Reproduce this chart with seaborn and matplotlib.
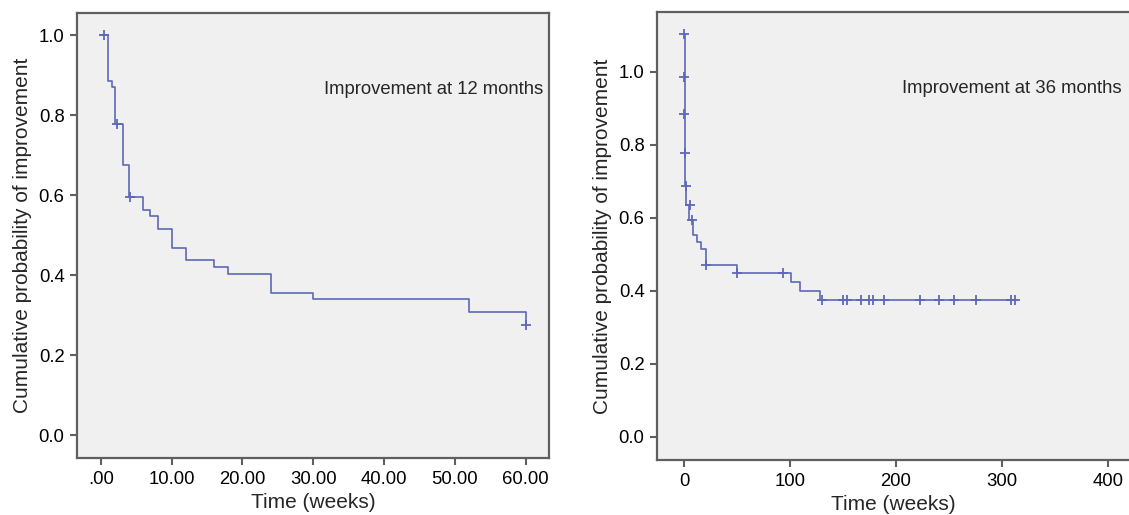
import matplotlib
matplotlib.use('Agg')
import matplotlib.pyplot as plt
import seaborn as sns

# improvement at 12 months (weeks, cumulative probability)
t12 = [0.0, 1.0, 1.55, 2.0, 3.1, 4.0, 6.0, 7.0, 8.1, 10.1, 12.0, 16.0, 18.0, 24.0, 30.0, 52.0, 60.0]
s12 = [1.0, 0.885, 0.87, 0.777, 0.674, 0.596, 0.562, 0.548, 0.516, 0.468, 0.437, 0.42, 0.4035, 0.356, 0.341, 0.3075, 0.274]
cens_t12 = [0.5, 2.3, 4.15, 60.0]
cens_s12 = [1.0, 0.777, 0.596, 0.274]
xticks12 = [0, 10, 20, 30, 40, 50, 60]
xlabels12 = ['.00', '10.00', '20.00', '30.00', '40.00', '50.00', '60.00']

# improvement at 36 months
t36 = [0.0, 1.0, 2.0, 5.0, 8.8, 12.5, 15.7, 20.8, 50.3, 100.6, 109.4, 128.3, 313.8]
s36 = [1.105, 0.69, 0.635, 0.594, 0.553, 0.534, 0.513, 0.47, 0.448, 0.425, 0.399, 0.3745, 0.3745]
cens_t36 = [0.0, 0.0, 0.0, 0.5, 1.5, 5.7, 7.8, 21.0, 50.0, 93.7, 130.0, 150.3, 153.5,
            166.7, 174.5, 178.0, 188.7, 222.6, 240.9, 255.0, 275.2, 308.2, 312.0]
cens_s36 = [1.105, 0.986, 0.884, 0.778, 0.688, 0.635, 0.594, 0.47, 0.448, 0.448] + [0.3745] * 13
xticks36 = [0, 100, 200, 300, 400]
xlabels36 = ['0', '100', '200', '300', '400']

yticks = [0.0, 0.2, 0.4, 0.6, 0.8, 1.0]
ylabels = ['0.0', '0.2', '0.4', '0.6', '0.8', '1.0']

line_c = '#5d68b6'
spine_c = '#5f5f5f'

sns.set_style('ticks')
plt.rcParams['font.family'] = ['Liberation Sans', 'DejaVu Sans']

fig = plt.figure(figsize=(11.29, 5.15), dpi=100)
ax1 = fig.add_axes([77 / 1129, 57 / 515, 472 / 1129, 445 / 515])
ax2 = fig.add_axes([657 / 1129, 55 / 515, 472 / 1129, 448 / 515])


def km_panel(ax, t, s, ct, cs, note):
    ax.set_facecolor('#f0f0f0')
    sns.lineplot(x=t, y=s, ax=ax, estimator=None, sort=False,
                 drawstyle='steps-post', color=line_c, linewidth=1.2)
    sns.scatterplot(x=ct, y=cs, ax=ax, marker='+', s=45, color=line_c,
                    linewidth=1.3, zorder=3)
    ax.set_yticks(yticks)
    ax.set_yticklabels(ylabels)
    ax.set_xlabel('Time (weeks)', fontsize=15, labelpad=4)
    ax.set_ylabel('Cumulative probability of improvement', fontsize=15)
    # label anchor is its right edge once rotated
    ax.yaxis.set_label_coords(-0.095, 0.5)
    ax.tick_params(direction='out', length=5, width=1.5, color=spine_c,
                   labelsize=13.3, labelcolor='black', pad=4)
    for sp in ax.spines.values():
        sp.set_color(spine_c)
        sp.set_linewidth(1.6)
    ax.text(0.988, 0.829, note, transform=ax.transAxes, ha='right',
            va='center', fontsize=13.3)


km_panel(ax1, t12, s12, cens_t12, cens_s12, 'Improvement at 12 months')
ax1.set_xticks(xticks12)
ax1.set_xticklabels(xlabels12)
ax1.set_xlim(-3.35, 63.3)
ax1.set_ylim(-0.0575, 1.055)

km_panel(ax2, t36, s36, cens_t36, cens_s36, 'Improvement at 36 months')
ax2.set_xticks(xticks36)
ax2.set_xticklabels(xlabels36)
ax2.set_xlim(-25.5, 420)
ax2.set_ylim(-0.064, 1.164)
ax2.spines['right'].set_visible(False)
ax2.texts[0].set_x(0.9845)

fig.savefig('out.png', dpi=100, facecolor='white')
